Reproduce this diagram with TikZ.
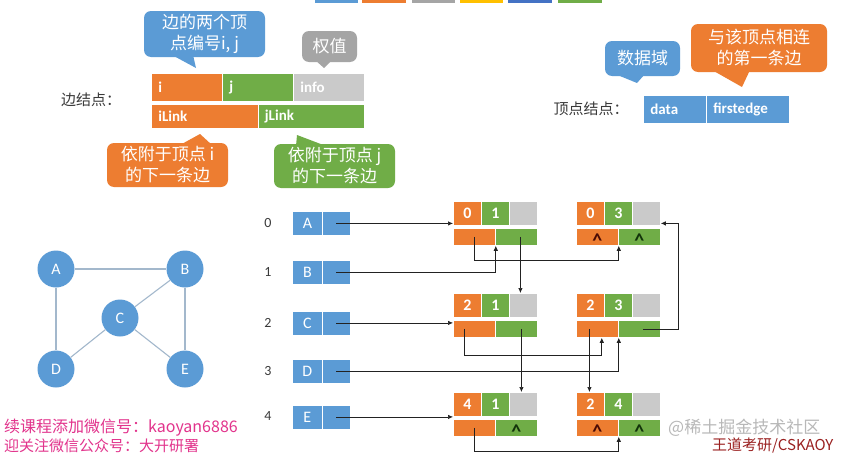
\documentclass[tikz,border=0pt]{standalone}
\usepackage{fontspec}
\setmainfont{Carlito}
\newfontfamily\cjk{Noto Sans CJK SC}
\usetikzlibrary{calc,arrows.meta}
\definecolor{cblue}{HTML}{5B9BD5}
\definecolor{corange}{HTML}{ED7D31}
\definecolor{cgreen}{HTML}{70AD47}
\definecolor{cgray}{HTML}{CACACA}
\definecolor{cdgray}{HTML}{A5A5A5}
\definecolor{cyellow}{HTML}{FFC000}
\definecolor{cnavy}{HTML}{4472C4}
\definecolor{cedge}{HTML}{A3B8CC}
\definecolor{cpink}{HTML}{E2338C}
\definecolor{cwine}{HTML}{9A2020}
\definecolor{ctxt}{HTML}{3A3A3A}
\definecolor{cline}{HTML}{222222}
\definecolor{ccaro}{HTML}{4A0A04}
\definecolor{ccarg}{HTML}{12330A}
\tikzset{
  cell/.style={draw=white, line width=0.8pt, inner sep=0pt, anchor=north west, text=white},
  tcell/.style={cell, minimum width=28pt, minimum height=24pt, font=\bfseries\fontsize{16}{16}\selectfont},
  lcell/.style={cell, minimum width=42pt, minimum height=17pt},
  hcell/.style={cell, inner xsep=7pt, align=left, font=\bfseries\fontsize{15}{15}\selectfont},
  vcell/.style={cell, fill=cblue, minimum height=24pt, font=\fontsize{16}{16}\selectfont},
  caret/.style={inner sep=0pt, font=\bfseries\fontsize{20}{20}\selectfont, yshift=-3.8pt},
  idx/.style={text=ctxt, font=\fontsize{14}{14}\selectfont},
  gv/.style={circle, fill=cblue, text=white, minimum size=37pt, inner sep=0pt, font=\fontsize{16}{16}\selectfont},
  gedge/.style={draw=cedge, line width=1.1pt},
  conn/.style={draw=cline, line width=0.7pt, -{Latex[length=5pt,width=4.5pt]}},
  bubble/.style={rounded corners=7pt, inner sep=0pt, text=white, align=center, font=\cjk\fontsize{17}{21}\selectfont},
  lbl/.style={text=ctxt, font=\cjk\fontsize{15}{15}\selectfont},
}
\newcommand{\mkedge}[5]{%
  \node[tcell, fill=corange] (#1i) at (#2,#3) {#4};
  \node[tcell, fill=cgreen] (#1j) at (#2+28,#3) {#5};
  \node[tcell, fill=cgray] (#1w) at (#2+56,#3) {};
  \node[lcell, fill=corange] (#1il) at (#2,#3+27) {};
  \node[lcell, fill=cgreen] (#1jl) at (#2+42,#3+27) {};
}
\newcommand{\mkvert}[4]{%
  \node[vcell, minimum width=30pt] (#1d) at (292,#2) {#3};
  \node[vcell, minimum width=28pt] (#1p) at (322,#2) {};
  \node[idx] (#1n) at (268,#2+12) {#4};
}
\begin{document}
\begin{tikzpicture}[x=1pt,y=-1pt]
\useasboundingbox (0,0) rectangle (841,455);
\fill[white] (0,0) rectangle (841,455);

% top colour bars (cut off)
\fill[cblue] (315,-3) rectangle (358,3);
\fill[corange] (362,-3) rectangle (406,3);
\fill[cdgray] (412,-3) rectangle (455,3);
\fill[cyellow] (460,-3) rectangle (503,3);
\fill[cnavy] (508,-3) rectangle (552,3);
\fill[cgreen] (558,-3) rectangle (602,3);

% ---------- edge node structure ----------
\node[lbl] (elbl) at (91,100) {边结点：};
\node[hcell, fill=corange, minimum width=71pt, minimum height=28pt, text width=57pt] (hi) at (151,73) {i};
\node[hcell, fill=cgreen, minimum width=71pt, minimum height=28pt, text width=57pt] (hj) at (222,73) {j};
\node[hcell, fill=cgray, minimum width=71pt, minimum height=28pt, text width=57pt] (hinfo) at (293,73) {info};
\node[hcell, fill=corange, minimum width=106.5pt, minimum height=24pt, text width=92.5pt] (hil) at (151,104) {iLink};
\node[hcell, fill=cgreen, minimum width=106.5pt, minimum height=24pt, text width=92.5pt] (hjl) at (257.5,104) {jLink};

% callouts
\fill[cblue] (172,55) -- (193,55) -- (196,68) -- cycle;
\node[bubble, fill=cblue, minimum width=121pt, minimum height=46pt] (cb1) at (204.5,34) {边的两个顶\\点编号i, j};
\fill[cdgray] (315,60) -- (332,60) -- (324,68) -- cycle;
\node[bubble, fill=cdgray, minimum width=55pt, minimum height=31pt] (cb2) at (329.5,46.5) {权值};
\fill[corange] (180,145) -- (212,145) -- (200,134) -- cycle;
\node[bubble, fill=corange, minimum width=121pt, minimum height=44pt] (cb3) at (167.5,165) {依附于顶点 i\\的下一条边};
\fill[cgreen] (296,146) -- (326,146) -- (297,135) -- cycle;
\node[bubble, fill=cgreen, minimum width=121pt, minimum height=44pt] (cb4) at (334.5,166) {依附于顶点 j\\的下一条边};

% ---------- vertex node structure ----------
\node[lbl] (vlbl) at (591,109) {顶点结点：};
\node[hcell, fill=cblue, minimum width=63pt, minimum height=28pt, text width=49pt] (hdata) at (643,95) {data};
\node[hcell, fill=cblue, minimum width=83pt, minimum height=28pt, text width=69pt] (hfirst) at (706,95) {firstedge};
\fill[cblue] (615,74) -- (645,74) -- (637,83) -- cycle;
\node[bubble, fill=cblue, minimum width=75pt, minimum height=35pt] (cb5) at (642.5,58.5) {数据域};
\fill[corange] (712,70) -- (750,70) -- (742,87) -- cycle;
\node[bubble, fill=corange, minimum width=136pt, minimum height=48pt] (cb6) at (759,48) {与该顶点相连\\的第一条边};

% ---------- graph ----------
\node[gv] (gA) at (56,269) {A};
\node[gv] (gB) at (185,269) {B};
\node[gv] (gC) at (120,318) {C};
\node[gv] (gD) at (56,369) {D};
\node[gv] (gE) at (185,369) {E};
\draw[gedge] (gA) -- (gB);
\draw[gedge] (gA) -- (gD);
\draw[gedge] (gB) -- (gC);
\draw[gedge] (gB) -- (gE);
\draw[gedge] (gC) -- (gD);
\draw[gedge] (gC) -- (gE);

% ---------- adjacency multilist ----------
\mkvert{A}{211}{A}{0}
\mkvert{B}{259.5}{B}{1}
\mkvert{C}{310.5}{C}{2}
\mkvert{D}{359}{D}{3}
\mkvert{E}{404.5}{E}{4}

\mkedge{e01}{453}{201}{0}{1}
\mkedge{e03}{576}{201}{0}{3}
\mkedge{e21}{453}{293}{2}{1}
\mkedge{e23}{576}{293}{2}{3}
\mkedge{e41}{453}{392}{4}{1}
\mkedge{e24}{576}{392}{2}{4}

\node[caret, text=ccaro] (k1) at (e03il.center) {\textasciicircum};
\node[caret, text=ccarg] (k2) at (e03jl.center) {\textasciicircum};
\node[caret, text=ccaro] (k3) at (e24il.center) {\textasciicircum};
\node[caret, text=ccarg] (k4) at (e24jl.center) {\textasciicircum};
\node[caret, text=ccarg] (k5) at (e41jl.center) {\textasciicircum};

% connectors
\draw[conn] (Ap.center) -- (Ap.center -| e01i.west);
\draw[conn] (Bp.center) -| (e01il.south east);
\draw[conn] (Cp.center) -- (Cp.center -| e21il.west);
\draw[conn] (Dp.center) -| (e23il.south east);
\draw[conn] (Ep.center) -- (Ep.center -| e41i.west);

\draw[conn] (e01il.center) |- ([yshift=-15pt]e03il.south east) -- (e03il.south east);
\coordinate (s1) at ([xshift=4pt]e01jl.center);
\draw[conn] (s1) -- (s1 |- e21w.north);

\coordinate (s3) at ([xshift=-10pt]e21il.center);
\coordinate (t3) at ([xshift=-17pt]e23il.south east);
\draw[conn] (s3) |- ([yshift=-18pt]t3) -- (t3);
\coordinate (s4) at ([xshift=5pt]e21jl.center);
\draw[conn] (s4) -- (s4 |- e41w.north);

\coordinate (s5) at ([xshift=-8pt]e23il.center);
\draw[conn] (s5) -- (s5 |- e24i.north);
\coordinate (s6) at ([xshift=4pt]e23jl.center);
\coordinate (t6) at ([yshift=-10pt]e03w.east);
\draw[conn] (s6) -- ([xshift=35pt]s6) |- (t6);

\draw[conn] (e41il.center) |- ([yshift=-15pt]e24il.south east) -- (e24il.south east);

% watermarks
\node[anchor=west, inner sep=0pt, text=cpink, font=\cjk\fontsize{16}{16}\selectfont] (wm1) at (4,428) {续课程添加微信号：kaoyan6886};
\node[anchor=west, inner sep=0pt, text=cpink, font=\cjk\fontsize{15}{15}\selectfont] (wm2) at (4,446) {迎关注微信公众号：大开研署};
\node[anchor=west, inner sep=0pt, text=black!28, font=\cjk\fontsize{17}{17}\selectfont] (wm3) at (668,428) {@稀土掘金技术社区};
\node[anchor=west, inner sep=0pt, text=cwine, font=\cjk\fontsize{15}{15}\selectfont] (wm4) at (712,446) {王道考研/CSKAOY};
\end{tikzpicture}
\end{document}
